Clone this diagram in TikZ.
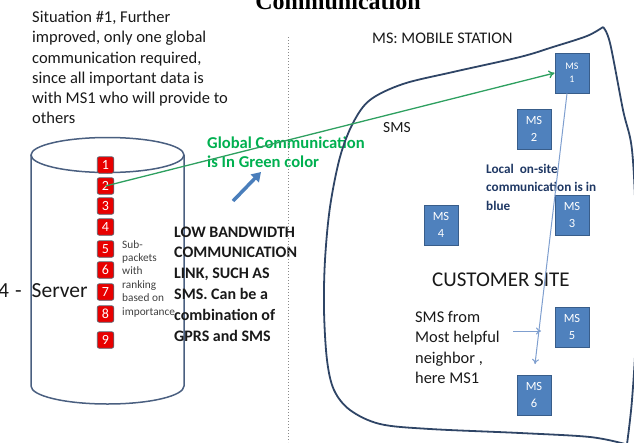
\documentclass[tikz,border=0pt]{standalone}
\usepackage{fontspec}
\setmainfont{Carlito}
\newfontfamily\titlefont{Liberation Serif}
\usetikzlibrary{arrows.meta}
\definecolor{cylline}{HTML}{4A5F80}
\definecolor{siteline}{HTML}{2F4566}
\definecolor{msfill}{HTML}{4F81BD}
\definecolor{msdraw}{HTML}{385D8A}
\definecolor{boxred}{HTML}{E80000}
\definecolor{boxdraw}{HTML}{5A6470}
\definecolor{gtext}{HTML}{00B050}
\definecolor{gline}{HTML}{2EA060}
\definecolor{navytext}{HTML}{1F3864}
\definecolor{thinblue}{HTML}{7F9FCF}
\definecolor{bigarrow}{HTML}{4A7EBB}
\definecolor{dotgray}{HTML}{8A8A8A}
\tikzset{
  txt/.style={inner sep=0pt, align=left, anchor=west, text=black!90},
  redbox/.style={draw=boxdraw, line width=0.7pt, fill=boxred, rounded corners=2pt,
    minimum width=16.5pt, minimum height=16.5pt, inner sep=0pt, text=white,
    font=\fontsize{14}{14}\selectfont},
  msbox/.style={draw=msdraw, line width=0.9pt, fill=msfill, minimum width=34pt,
    minimum height=40pt, inner sep=0pt, align=center, text=white,
    font=\fontsize{12.5}{17}\selectfont},
  cyl/.style={draw=cylline, line width=1.5pt},
  site/.style={draw=siteline, line width=1.8pt},
}
\begin{document}
\begin{tikzpicture}[x=1pt,y=-1pt]
\useasboundingbox (0,0) rectangle (634,442);
\clip (0,0) rectangle (634,442);

% title (cut off at top)
\node[anchor=base, inner sep=0pt, font=\titlefont\bfseries\fontsize{24}{24}\selectfont] (title) at (338,9) {Communication};

% cylinder
\draw[cyl] (107.5,155) ellipse [x radius=76.5, y radius=17.5];
\draw[cyl] (31,155) -- (31,386) arc[start angle=180, end angle=360, x radius=76.5, y radius=-18] -- (184,155);

% red sub-packet boxes
\foreach \n/\yy in {1/165,2/186,3/206,4/227,5/249,6/270,7/292,8/314,9/340}{
  \node[redbox] (b\n) at (105.5,\yy) {\n};
}

% server label
\node[txt, anchor=base west, font=\fontsize{21.5}{21.5}\selectfont] (server) at (-2,297) {4\hspace{6pt}-\hspace{10pt}Server};

% sub-packets text
\node[txt, font=\fontsize{11.3}{13.4}\selectfont, text=black!75] (sub) at (122,278.5) {Sub-\\packets\\with\\ranking\\based on\\importance};

% situation text
\node[txt, font=\fontsize{16.5}{20.3}\selectfont] (sit) at (32,67.5) {Situation \#1, Further\\improved, only one global\\communication required,\\since all important data is\\with MS1 who will provide to\\others};

% low bandwidth text
\node[txt, font=\bfseries\fontsize{16}{20.8}\selectfont] (low) at (174,284) {LOW BANDWIDTH\\COMMUNICATION\\LINK, SUCH AS\\SMS. Can be a\\combination of\\GPRS and SMS};

% green text
\node[txt, text=gtext, font=\bfseries\fontsize{16.6}{19.5}\selectfont] (green) at (207,152) {Global Communication\\is In Green color};

% dotted separator
\coordinate (dtop) at (288,37);
\coordinate (dbot) at (288,442);
\draw[dotgray, line width=1pt, dotted] (dtop) -- (dbot);

% big blue arrow
\coordinate (baA) at (233,201);
\coordinate (baB) at (261,172);
\draw[bigarrow, line width=3.5pt, -{Triangle[length=9pt,width=11pt]}] (baA) -- (baB);

% customer site outline
\draw[site] plot[smooth, tension=0.55] coordinates {
  (603,27) (587,36) (553,47) (520,57) (453,72) (403,84) (370,100) (353,123)
  (340,157) (330,207) (325,260) (324,310) (327,360) (334,390) (350,410)
  (380,424) (430,429) (520,433) (590,437) (625,444)};
\draw[site] plot[smooth, tension=0.55] coordinates {
  (603,27) (610,43) (623,110) (632,150) (636,230) (636,330) (632,400) (627,444)};

% MS boxes
\node[msbox, font=\fontsize{10}{13}\selectfont] (ms1) at (572,73) {MS\\1};
\node[msbox] (ms2) at (534,129) {MS\\2};
\node[msbox] (ms3) at (572,215) {MS\\3};
\node[msbox] (ms4) at (441,225) {MS\\4};
\node[msbox] (ms5) at (572,327) {MS\\5};
\node[msbox] (ms6) at (534,395) {MS\\6};

% labels in customer site
\node[txt, font=\fontsize{16.2}{16.2}\selectfont] (mslabel) at (372,38) {MS: MOBILE STATION};
\node[txt, font=\fontsize{15.5}{15.5}\selectfont] (sms) at (383,128) {SMS};
\node[txt, text=navytext, font=\bfseries\fontsize{13.2}{18.5}\selectfont] (local) at (486,187) {Local~ on-site\\communication is in\\blue};
\node[txt, font=\fontsize{21}{21}\selectfont] (cust) at (432,280) {CUSTOMER SITE};
\node[txt, font=\fontsize{16.4}{20.3}\selectfont] (smsfrom) at (415,347.5) {SMS from\\Most helpful\\neighbor ,\\here MS1};

% local blue line
\coordinate (tipA) at (535,364);
\draw[thinblue, line width=1pt, -{To[length=5pt,width=7pt]}] ([xshift=-5pt]ms1.south) -- (tipA);
\coordinate (smsA) at (513,331);
\coordinate (smsB) at (541,331);
\draw[thinblue, line width=1pt, -{To[length=5pt,width=7pt]}] (smsA) -- (smsB);

% green global communication line
\draw[gline, line width=1.3pt, -{To[length=6pt,width=8pt]}] (b2.center) -- (ms1.west);
\end{tikzpicture}
\end{document}
